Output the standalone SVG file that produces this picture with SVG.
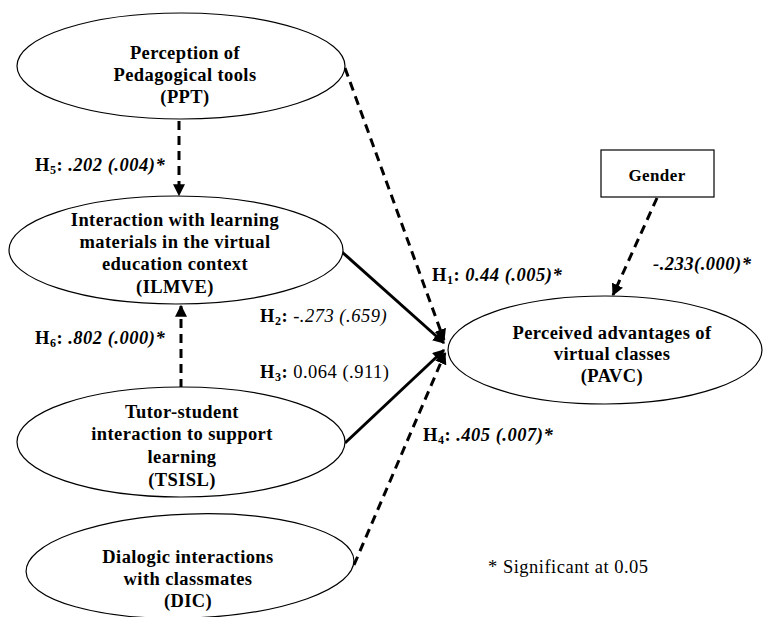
<svg xmlns="http://www.w3.org/2000/svg" width="765" height="617" viewBox="0 0 765 617">
<style>
.node{fill:#fff;stroke:#000;stroke-width:1.2}
.t{font-family:"Liberation Serif",serif;font-weight:bold;font-size:18.5px;letter-spacing:0.4px;text-anchor:middle;fill:#000}
.l{font-family:"Liberation Serif",serif;font-size:18.5px;letter-spacing:0.5px;fill:#000}
.b{font-weight:bold}
.i{font-style:italic}
.c{fill:none;stroke:#000;stroke-width:3}
.d{stroke-dasharray:9,6}
</style>
<defs>
<marker id="ah" viewBox="0 0 10 10" refX="9" refY="5" markerWidth="4" markerHeight="4" orient="auto" markerUnits="strokeWidth">
<path d="M0,0 L10,5 L0,10 z" fill="#000"/>
</marker>
</defs>
<rect width="765" height="617" fill="#fff"/>
<g id="connectors">
<line class="c d" x1="345" y1="68" x2="444" y2="340" marker-end="url(#ah)"/>
<line class="c" x1="342" y1="252" x2="444" y2="343" marker-end="url(#ah)"/>
<line class="c" x1="345" y1="443" x2="444" y2="350" marker-end="url(#ah)"/>
<line class="c d" x1="354" y1="565" x2="445" y2="353" marker-end="url(#ah)"/>
<line class="c d" x1="179" y1="121" x2="179" y2="195" marker-end="url(#ah)"/>
<line class="c d" x1="181" y1="388" x2="181" y2="306" marker-end="url(#ah)"/>
<line class="c d" x1="657" y1="198" x2="613" y2="295" marker-end="url(#ah)"/>
</g>
<g id="PPT">
<ellipse class="node" cx="181" cy="66" rx="164" ry="53"/>
<text class="t" x="185" y="59">Perception of</text>
<text class="t" x="185" y="81">Pedagogical tools</text>
<text class="t" x="185" y="103">(PPT)</text>
</g>
<g id="ILMVE">
<ellipse class="node" cx="176" cy="250" rx="167" ry="54"/>
<text class="t" x="175" y="226">Interaction with learning</text>
<text class="t" x="175" y="248">materials in the virtual</text>
<text class="t" x="175" y="270">education context</text>
<text class="t" x="175" y="293">(ILMVE)</text>
</g>
<g id="TSISL">
<ellipse class="node" cx="181" cy="442" rx="164" ry="55"/>
<text class="t" x="182" y="418">Tutor-student</text>
<text class="t" x="182" y="440">interaction to support</text>
<text class="t" x="182" y="463">learning</text>
<text class="t" x="182" y="486">(TSISL)</text>
</g>
<g id="DIC">
<ellipse class="node" cx="190" cy="566" rx="164" ry="52" transform="rotate(-2 190 566)"/>
<text class="t" x="188" y="563">Dialogic interactions</text>
<text class="t" x="188" y="585">with classmates</text>
<text class="t" x="188" y="607">(DIC)</text>
</g>
<g id="PAVC">
<ellipse class="node" cx="605" cy="350" rx="157" ry="54"/>
<text class="t" x="612" y="339">Perceived advantages of</text>
<text class="t" x="612" y="360">virtual classes</text>
<text class="t" x="612" y="382">(PAVC)</text>
</g>
<g id="Gender">
<rect class="node" x="601" y="150" width="113" height="47"/>
<text class="t" x="657" y="181" style="font-size:17px">Gender</text>
</g>
<g id="labels">
<text class="l" x="35" y="171"><tspan class="b">H</tspan><tspan class="b" font-size="12" dy="3">5</tspan><tspan class="b" dy="-3">: </tspan><tspan class="b i">.202 (.004)*</tspan></text>
<text class="l" x="35" y="344"><tspan class="b">H</tspan><tspan class="b" font-size="12" dy="3">6</tspan><tspan class="b" dy="-3">: </tspan><tspan class="b i">.802 (.000)*</tspan></text>
<text class="l" x="260" y="322"><tspan class="b">H</tspan><tspan class="b" font-size="12" dy="3">2</tspan><tspan class="b" dy="-3">: </tspan><tspan class="i">-.273 (.659)</tspan></text>
<text class="l" x="260" y="378"><tspan class="b">H</tspan><tspan class="b" font-size="12" dy="3">3</tspan><tspan class="b" dy="-3">: </tspan><tspan>0.064 (.911)</tspan></text>
<text class="l" x="432" y="281"><tspan class="b">H</tspan><tspan class="b" font-size="12" dy="3">1</tspan><tspan class="b" dy="-3">: </tspan><tspan class="b i">0.44 (.005)*</tspan></text>
<text class="l b i" x="653" y="270">-.233(.000)*</text>
<text class="l" x="423" y="441"><tspan class="b">H</tspan><tspan class="b" font-size="12" dy="3">4</tspan><tspan class="b" dy="-3">: </tspan><tspan class="b i">.405 (.007)*</tspan></text>
<text class="l" x="488" y="573">* Significant at 0.05</text>
</g>
</svg>
